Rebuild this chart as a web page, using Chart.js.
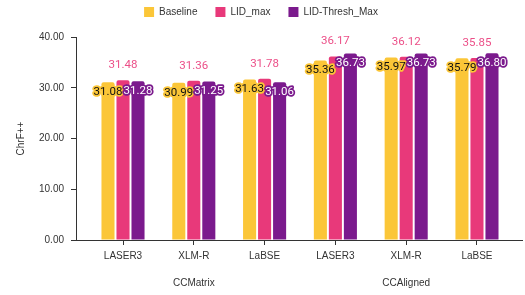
<!DOCTYPE html>
<html><head><meta charset="utf-8">
<script src="https://cdn.jsdelivr.net/npm/chart.js@4.4.0/dist/chart.umd.min.js"></script>
<style>html,body{margin:0;padding:0;background:#fff;}</style>
</head><body>
<canvas id="c" width="525" height="295"></canvas>
<script>
const categories = ['LASER3', 'XLM-R', 'LaBSE', 'LASER3', 'XLM-R', 'LaBSE'];
const groups = ['CCMatrix', 'CCMatrix', 'CCMatrix', 'CCAligned', 'CCAligned', 'CCAligned'];
const seriesNames = ['Baseline', 'LID_max', 'LID-Thresh_Max'];
const baseline = [31.08, 30.99, 31.63, 35.36, 35.97, 35.79];
const lidMax = [31.48, 31.36, 31.78, 36.17, 36.12, 35.85];
const lidThreshMax = [31.28, 31.25, 31.06, 36.73, 36.73, 36.80];
const yTicks = [0, 10, 20, 30, 40];

const COLORS = ['#FBC638', '#E8397A', '#7B1A8D'];
const FONT = "'Liberation Sans', Arial, sans-serif";
const TEXT = '#333333';

const toPoints = vals => vals.map((v, i) => ({x: i, y: v}));

const legendFitPlugin = {
  id: 'legendFit',
  beforeInit(chart) {
    const orig = chart.legend.fit;
    chart.legend.fit = function () { orig.call(this); this.height += 10; };
  }
};

const labelPlugin = {
  id: 'barLabels',
  afterDatasetsDraw(chart) {
    const ctx = chart.ctx;
    ctx.save();
    ctx.font = "11.5px Roboto, 'Liberation Sans', sans-serif";
    ctx.textAlign = 'center';
    ctx.textBaseline = 'middle';
    ctx.lineJoin = 'round';
    const order = [1, 0, 2];
    order.forEach(di => {
      const meta = chart.getDatasetMeta(di);
      const ds = chart.data.datasets[di];
      meta.data.forEach((bar, i) => {
        const txt = ds.data[i].y.toFixed(2);
        if (di === 1) {
          ctx.fillStyle = '#EC4F88';
          ctx.fillText(txt, bar.x, bar.y - 15);
        } else {
          const y = bar.y + 10;
          ctx.lineWidth = 3.5;
          ctx.strokeStyle = di === 0 ? COLORS[0] : COLORS[2];
          ctx.strokeText(txt, bar.x, y);
          ctx.fillStyle = di === 0 ? '#111111' : '#ffffff';
          ctx.fillText(txt, bar.x, y);
        }
      });
    });
    ctx.restore();
  }
};

const groupPlugin = {
  id: 'groupLabels',
  afterDraw(chart) {
    const ctx = chart.ctx;
    const xs = chart.scales.x;
    const uniq = [...new Set(groups)];
    ctx.save();
    ctx.font = '10px ' + FONT;
    ctx.fillStyle = TEXT;
    ctx.textAlign = 'center';
    ctx.textBaseline = 'middle';
    uniq.forEach(g => {
      const idx = groups.map((gg, i) => gg === g ? i : -1).filter(i => i >= 0);
      const px = idx.reduce((s, i) => s + xs.getPixelForValue(i), 0) / idx.length;
      ctx.fillText(g, px, chart.chartArea.bottom + 43);
    });
    ctx.restore();
  }
};

new Chart(document.getElementById('c'), {
  type: 'bar',
  data: {
    datasets: [
      {label: seriesNames[0], data: toPoints(baseline), backgroundColor: COLORS[0]},
      {label: seriesNames[1], data: toPoints(lidMax), backgroundColor: COLORS[1]},
      {label: seriesNames[2], data: toPoints(lidThreshMax), backgroundColor: COLORS[2]}
    ]
  },
  options: {
    responsive: false,
    animation: false,
    devicePixelRatio: 1,
    categoryPercentage: 0.636,
    barPercentage: 0.87,
    borderRadius: {topLeft: 2, topRight: 2},
    borderSkipped: 'start',
    layout: {padding: {top: -11, right: 3, left: 0, bottom: 0}},
    plugins: {
      legend: {
        position: 'top',
        labels: {boxWidth: 10, boxHeight: 10, padding: 18, color: TEXT, font: {family: FONT, size: 10}}
      },
      tooltip: {enabled: false}
    },
    scales: {
      x: {
        type: 'linear',
        offset: false,
        min: -0.664,
        max: 5.636,
        afterBuildTicks: s => { s.ticks = categories.map((_, i) => ({value: i})); },
        afterFit: s => { s.height = 55; },
        ticks: {
          callback: v => categories[v],
          autoSkip: false, maxRotation: 0, padding: 5,
          color: TEXT, font: {family: FONT, size: 10}
        },
        grid: {display: true, offset: false, drawOnChartArea: false, tickLength: 5, color: '#333'},
        border: {display: true, color: '#333', width: 1}
      },
      y: {
        min: 0,
        max: 40,
        afterBuildTicks: s => { s.ticks = yTicks.map(v => ({value: v})); },
        afterFit: s => { s.width = 76; },
        ticks: {
          callback: v => Number(v).toFixed(2),
          padding: 7, color: TEXT, font: {family: FONT, size: 10}
        },
        grid: {display: true, drawOnChartArea: false, tickLength: 5, color: '#333'},
        border: {display: true, color: '#333', width: 1},
        title: {display: true, text: 'ChrF++', color: TEXT, font: {family: FONT, size: 10}, padding: {top: 15, bottom: 0}}
      }
    }
  },
  plugins: [legendFitPlugin, labelPlugin, groupPlugin]
});
</script>
</body></html>
